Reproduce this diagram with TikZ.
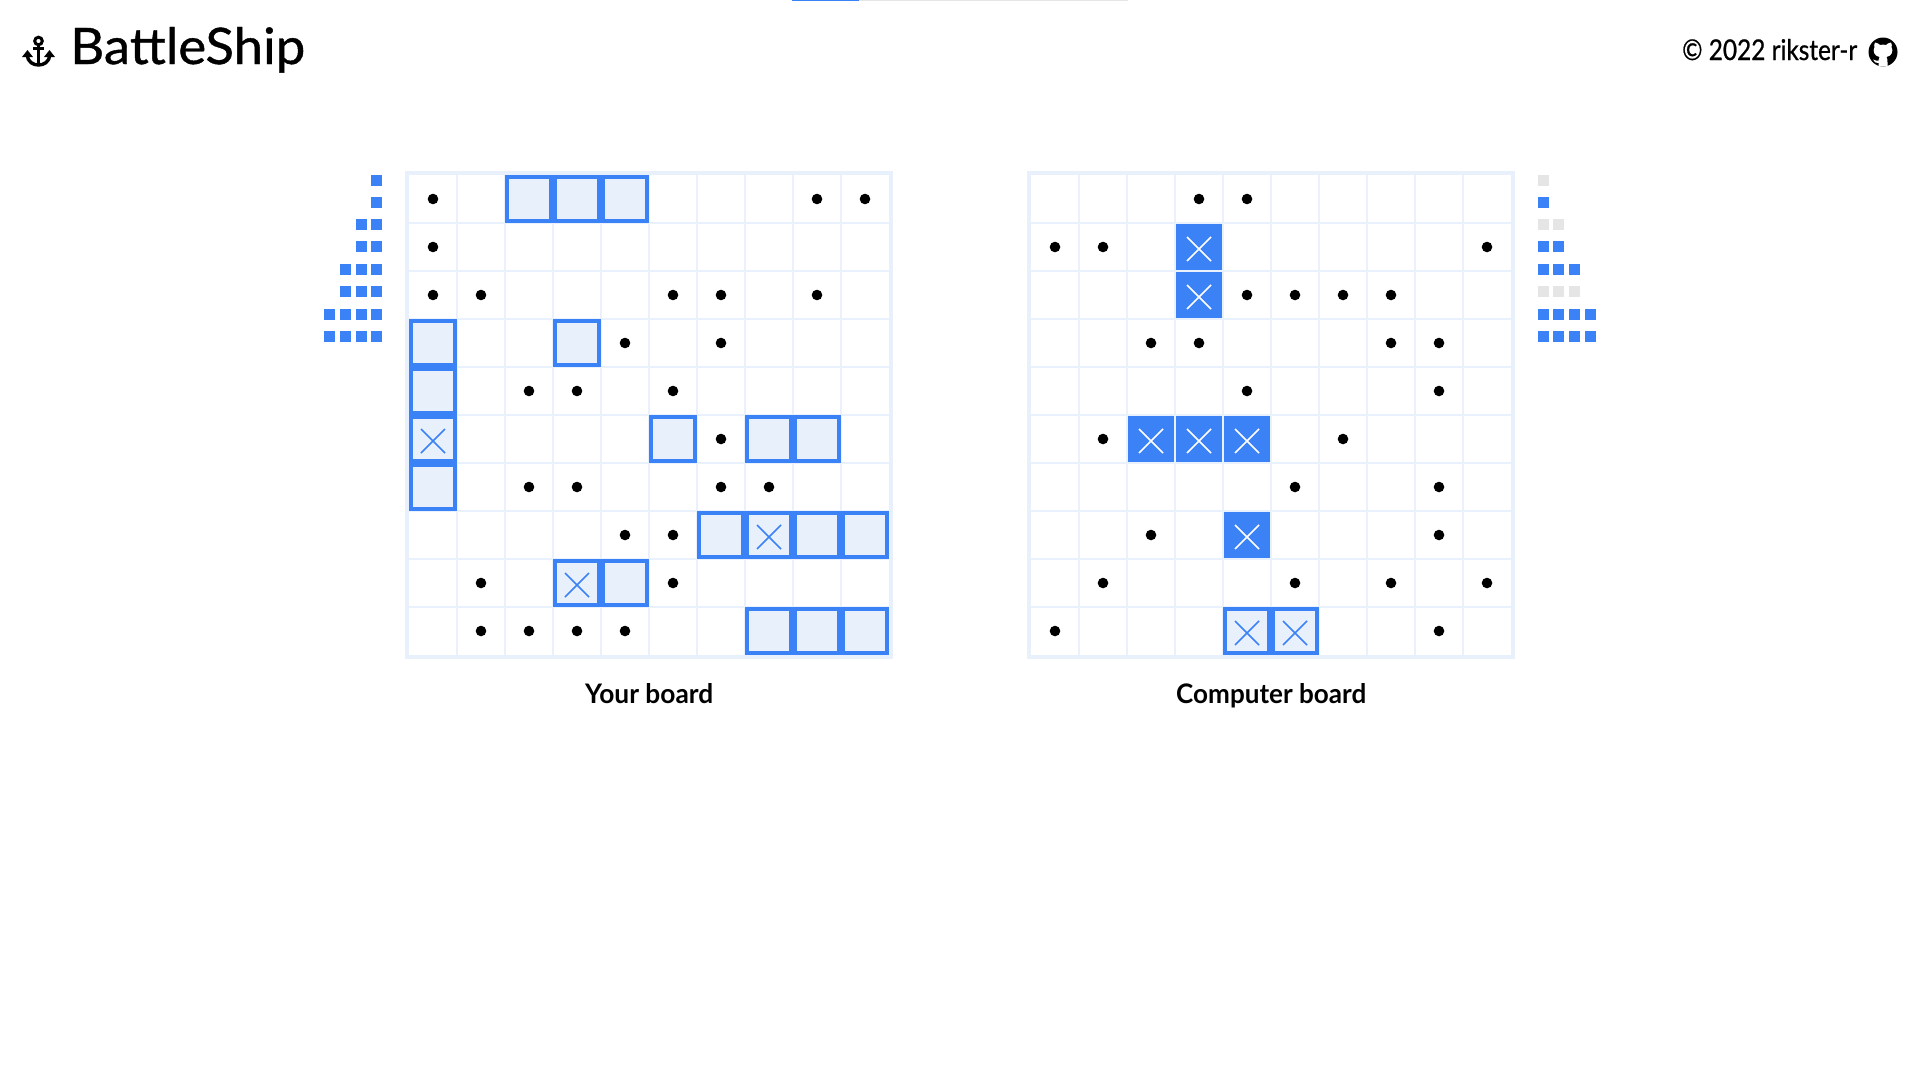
\documentclass[tikz,border=0pt]{standalone}
\usepackage{graphicx}
\usepackage{fontspec}
\setmainfont{Lato}
\newfontfamily\headfont[FakeBold=0.8]{Lato}
\definecolor{bsblue}{HTML}{3B82F6}
\definecolor{bslight}{HTML}{E8F0FC}
\definecolor{bsline}{HTML}{E9F1FD}
\definecolor{bsgrey}{HTML}{E5E5E5}
\tikzset{
  gridline/.style={draw=bsline,line width=2pt},
  gridframe/.style={draw=bslight,line width=4.8pt},
  shipx/.style={draw=bsblue,line width=1.7pt},
  hitx/.style={draw=white,line width=1.7pt},
  dotmark/.pic={\fill[black] (0,0) circle[radius=5.3pt];},
  shipcell/.pic={\filldraw[fill=bslight,draw=bsblue,line width=4.4pt] (-22pt,-22pt) rectangle (22pt,22pt);},
  shiphit/.pic={\filldraw[fill=bslight,draw=bsblue,line width=4.4pt] (-22pt,-22pt) rectangle (22pt,22pt);
     \draw[shipx] (-12pt,-14pt) -- (12pt,10pt) (-12pt,10pt) -- (12pt,-14pt);},
  solidcell/.pic={\fill[bsblue] (-23pt,-23pt) rectangle (23pt,23pt);
     \draw[hitx] (-12pt,-14pt) -- (12pt,10pt) (-12pt,10pt) -- (12pt,-14pt);},
  boardgrid/.pic={
     \foreach \k in {1,...,9} {
        \draw[gridline] (-24pt+\k*48pt,24pt) -- (-24pt+\k*48pt,-456pt);
        \draw[gridline] (-24pt,24pt-\k*48pt) -- (456pt,24pt-\k*48pt);
     }
     \draw[gridframe] (-26pt,26pt) rectangle (458pt,-458pt);
  },
}
\begin{document}
\begin{tikzpicture}[x=1pt,y=-1pt]
\useasboundingbox (0,0) rectangle (1919,1079);
\fill[white] (0,0) rectangle (1919,1079);

% top progress bar
\fill[bsgrey] (859,0) rectangle (1128,1);
\fill[bsblue] (792,0) rectangle (859,1);

% header
\node[anchor=base west,inner sep=0pt] (title) at (70,64)
  {\resizebox{235pt}{37pt}{\headfont BattleShip}};
\node[anchor=base west,inner sep=0pt] (credit) at (1682,60)
  {\resizebox{175pt}{21pt}{\headfont © 2022 rikster-r}};

% anchor icon
\draw[black,line width=3pt] (38.5,41) circle[radius=3.8];
\draw[black,line width=3.4pt] (38.5,45) -- (38.5,65);
\draw[black,line width=3pt] (33,48.5) -- (44,48.5);
\draw[black,line width=3.4pt] (27,55) .. controls (28,62) and (33,65) .. (38.5,65)
   .. controls (44,65) and (49,62) .. (50,55);
\fill[black] (22,57) -- (27.5,50) -- (33,57) -- cycle;
\fill[black] (44,57) -- (49.5,50) -- (55,57) -- cycle;

% github icon
\fill[black] (1883,52) circle[radius=14.5];
\fill[white] (1875,42.5) .. controls (1877,42.5) and (1879,44) .. (1880,45)
   .. controls (1882,44.5) and (1884,44.5) .. (1886,45)
   .. controls (1887,44) and (1889,42.5) .. (1891,42.5)
   .. controls (1892,44.5) and (1892,46) .. (1891.5,47)
   .. controls (1893.5,51) and (1892,56) .. (1886.5,57)
   .. controls (1887.5,58) and (1887.5,60) .. (1887.5,66.3)
   -- (1878.5,66.3) -- (1878.5,63)
   .. controls (1876,63.5) and (1874,62) .. (1873,59.5)
   .. controls (1875,60.5) and (1877,61) .. (1878.5,60.5)
   .. controls (1878.5,58.5) and (1879,58) .. (1879.5,57)
   .. controls (1874,56) and (1872.5,51) .. (1874.5,47)
   .. controls (1874,46) and (1874,44.5) .. (1875,42.5) -- cycle;

% fleet markers, left board
\foreach \t/\xs in {175/{371},197/{371},219/{371,356},241/{371,356},264/{371,356,340},286/{371,356,340},309/{371,356,340,324},331/{371,356,340,324}}
  \foreach \l in \xs
    \fill[bsblue] (\l,\t) rectangle +(11,11);

% fleet markers, right board
\foreach \t/\xs/\c in {175/{1538}/bsgrey,197/{1538}/bsblue,219/{1538,1553}/bsgrey,241/{1538,1553}/bsblue,264/{1538,1553,1569}/bsblue,286/{1538,1553,1569}/bsgrey,309/{1538,1553,1569,1585}/bsblue,331/{1538,1553,1569,1585}/bsblue}
  \foreach \l in \xs
    \fill[\c] (\l,\t) rectangle +(11,11);

% left board
\begin{scope}[shift={(433,199)},x=48pt,y=-48pt]
  \pic at (0,0) {boardgrid};
  \foreach \c/\r in {0/0,8/0,9/0,0/1,0/2,1/2,5/2,6/2,8/2,4/3,6/3,2/4,3/4,5/4,6/5,2/6,3/6,6/6,7/6,4/7,5/7,1/8,5/8,1/9,2/9,3/9,4/9}
    \pic at (\c,\r) {dotmark};
  \foreach \c/\r in {2/0,3/0,4/0,0/3,3/3,0/4,5/5,7/5,8/5,0/6,6/7,8/7,9/7,4/8,7/9,8/9,9/9}
    \pic at (\c,\r) {shipcell};
  \foreach \c/\r in {0/5,7/7,3/8}
    \pic at (\c,\r) {shiphit};
\end{scope}

% right board
\begin{scope}[shift={(1055,199)},x=48pt,y=-48pt]
  \pic at (0,0) {boardgrid};
  \foreach \c/\r in {3/0,4/0,0/1,1/1,9/1,4/2,5/2,6/2,7/2,2/3,3/3,7/3,8/3,4/4,8/4,1/5,6/5,5/6,8/6,2/7,8/7,1/8,5/8,7/8,9/8,0/9,8/9}
    \pic at (\c,\r) {dotmark};
  \foreach \c/\r in {3/1,3/2,2/5,3/5,4/5,4/7}
    \pic at (\c,\r) {solidcell};
  \foreach \c/\r in {4/9,5/9}
    \pic at (\c,\r) {shiphit};
\end{scope}

% captions
\node[anchor=base west,inner sep=0pt] (yourlabel) at (585,703)
  {\resizebox{128pt}{20pt}{\bfseries Your board}};
\node[anchor=base west,inner sep=0pt] (complabel) at (1176,703)
  {\resizebox{190pt}{20pt}{\bfseries Computer board}};
\end{tikzpicture}
\end{document}
